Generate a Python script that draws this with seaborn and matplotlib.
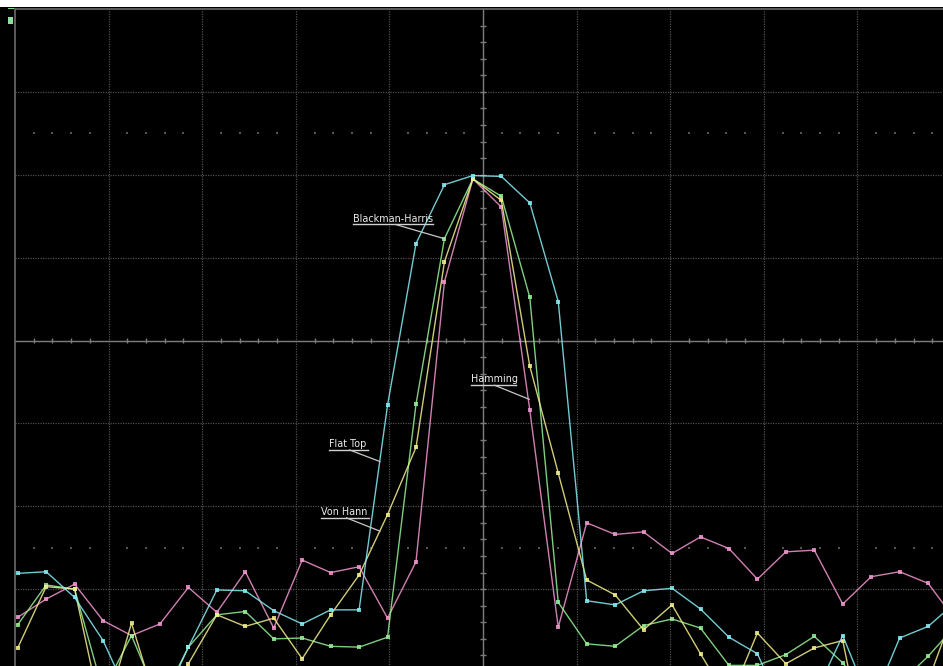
import numpy as np
import pandas as pd
import matplotlib
matplotlib.use("Agg")
import matplotlib.pyplot as plt
from matplotlib.patches import Rectangle
import seaborn as sns

# FFT bins shown on screen and magnitude in dB (10 dB/div)
bins = list(range(34))

hamming = [-53.4, -51.2, -49.4, -53.8, -55.6, -54.2, -49.8, -52.8, -47.9, -54.7,
           -46.5, -48.0, -47.3, -53.5, -46.7, -12.9, -0.5, -3.9, -28.4, -54.6,
           -42.0, -43.4, -43.1, -45.7, -43.7, -45.1, -48.8, -45.5, -45.3, -51.8,
           -48.5, -47.9, -49.3, -53.9]
flat_top = [-48.1, -47.9, -51.0, -56.2, -63.7, -64.4, -57.0, -50.1, -50.2, -52.6,
            -54.2, -52.5, -52.5, -27.8, -8.3, -1.2, -0.1, -0.2, -3.4, -15.3,
            -51.4, -51.9, -50.2, -49.9, -52.4, -55.8, -57.8, -65.3, -62.9, -55.6,
            -64.1, -55.9, -54.5, -51.5]
blackman_harris = [-54.3, -49.5, -50.0, -62.3, -55.6, -63.8, -57.0, -53.1, -52.7, -56.0,
                   -55.9, -56.9, -57.0, -55.8, -27.7, -7.7, -0.5, -2.6, -14.8, -51.6,
                   -56.6, -56.9, -54.4, -53.6, -54.7, -59.2, -59.2, -57.9, -55.7, -58.9,
                   -63.5, -61.4, -58.1, -54.3]
von_hann = [-57.1, -49.7, -50.0, -65.9, -54.1, -65.3, -59.0, -53.1, -54.5, -53.5,
            -58.4, -53.1, -48.3, -41.0, -32.9, -10.5, -0.5, -3.1, -23.1, -36.0,
            -48.9, -50.7, -54.9, -51.9, -57.8, -63.5, -55.3, -59.0, -57.1, -56.2,
            -73.1, -65.9, -61.1, -51.8]

window_names = ["Hamming", "Blackman-Harris", "Von Hann", "Flat Top"]
window_colors = {"Hamming": "#f596d2", "Blackman-Harris": "#96f296",
                 "Von Hann": "#f5f08c", "Flat Top": "#86eef6"}

traces = {"Hamming": hamming, "Blackman-Harris": blackman_harris,
          "Von Hann": von_hann, "Flat Top": flat_top}

df = pd.concat(
    [pd.DataFrame({"bin": bins, "dB": vals, "window": name}) for name, vals in traces.items()],
    ignore_index=True,
)

W, H = 943, 666
fig = plt.figure(figsize=(W / 100, H / 100), dpi=100)
fig.patch.set_facecolor("black")

# screen area (extends slightly past the right and bottom edges)
left_px, right_px, top_px, bot_px = 15, 951, 9, 672
ax = fig.add_axes([left_px / W, (H - bot_px) / H, (right_px - left_px) / W, (bot_px - top_px) / H])
ax.set_facecolor("black")

x0, bin_px = 17.7, 28.45
xlim = ((left_px - x0) / bin_px, (right_px - x0) / bin_px)
ylim = (-60, 20)
ax.set_xlim(*xlim)
ax.set_ylim(*ylim)
xdiv = (xlim[1] - xlim[0]) / 10
ydiv = 10

# graticule
grid_col = "#4e4e4e"
for k in range(1, 10):
    ax.axvline(xlim[0] + k * xdiv, color=grid_col, lw=0.9, ls=(0, (1, 1)), zorder=1)
for k in range(1, 8):
    ax.axhline(ylim[0] + k * ydiv, color=grid_col, lw=0.9, ls=(0, (1, 1)), zorder=1)

# center cross with minor ticks
xc = xlim[0] + 5 * xdiv
yc = ylim[0] + 4 * ydiv
axis_col = "#7c7c7c"
ax.axvline(xc, color=axis_col, lw=1.0, zorder=1.5)
ax.axhline(yc, color=axis_col, lw=1.0, zorder=1.5)
tx = np.arange(1, 50) * xdiv / 5 + xlim[0]
tx = tx[np.abs(((tx - xlim[0]) / xdiv) % 1) > 1e-6]
ax.vlines(tx, yc - 0.3, yc + 0.3, color=axis_col, lw=1.0, zorder=1.5)
ty = np.arange(1, 40) * ydiv / 5 + ylim[0]
ax.hlines(ty, xc - 0.1, xc + 0.1, color=axis_col, lw=1.0, zorder=1.5)

# dotted marker rows
for yrow in (5, -45):
    ax.scatter(tx, np.full_like(tx, yrow), s=1.2, marker="s", color="#555555",
               linewidths=0, zorder=1.2)

# spectra
for name in window_names:
    sub = df[df["window"] == name]
    col = window_colors[name]
    sns.lineplot(data=sub, x="bin", y="dB", ax=ax, color=col, lw=1.0, alpha=0.85,
                 marker="s", markersize=3.2, markeredgewidth=0,
                 markerfacecolor=col, zorder=3, legend=False)

ax.set_xticks([])
ax.set_yticks([])
ax.set_xlabel("")
ax.set_ylabel("")
for s in ax.spines.values():
    s.set_color("#6a6a6a")
    s.set_linewidth(1.2)

# trace labels with underline and leader
def label(text, tx0, ty0, width, end):
    ax.text(tx0, ty0, text, color="#eeeeee", fontsize=6.9, family="DejaVu Sans",
            va="center", ha="left", zorder=5)
    yu = ty0 - 0.7
    ax.plot([tx0, tx0 + width], [yu, yu], color="#d0d0d0", lw=1.0, zorder=5)
    xs = tx0 + width * 0.53
    ax.plot([xs, end[0]], [yu, end[1]], color="#c8c8c8", lw=0.9, zorder=5)

label("Blackman-Harris", 11.8, -5.3, 2.79, (14.98, -7.7))
label("Hamming", 15.92, -24.7, 1.59, (17.98, -27.1))
label("Flat Top", 10.94, -32.5, 1.36, (12.73, -34.6))
label("Von Hann", 10.66, -40.7, 1.69, (12.73, -43.0))

# top status strip and channel marker
fig.patches.append(Rectangle((0, (H - 7) / H), 1, 7 / H, transform=fig.transFigure,
                             facecolor="white", edgecolor="none", zorder=0))
fig.patches.append(Rectangle((8 / W, (H - 24) / H), 5 / W, 7 / H, transform=fig.transFigure,
                             facecolor="#8fe0a0", edgecolor="none", zorder=1))
fig.patches.append(Rectangle((8 / W, (H - 9) / H), 6 / W, 1.5 / H, transform=fig.transFigure,
                             facecolor="#7fdc7f", edgecolor="none", zorder=1))

fig.savefig("out.png", dpi=100, facecolor=fig.get_facecolor())
